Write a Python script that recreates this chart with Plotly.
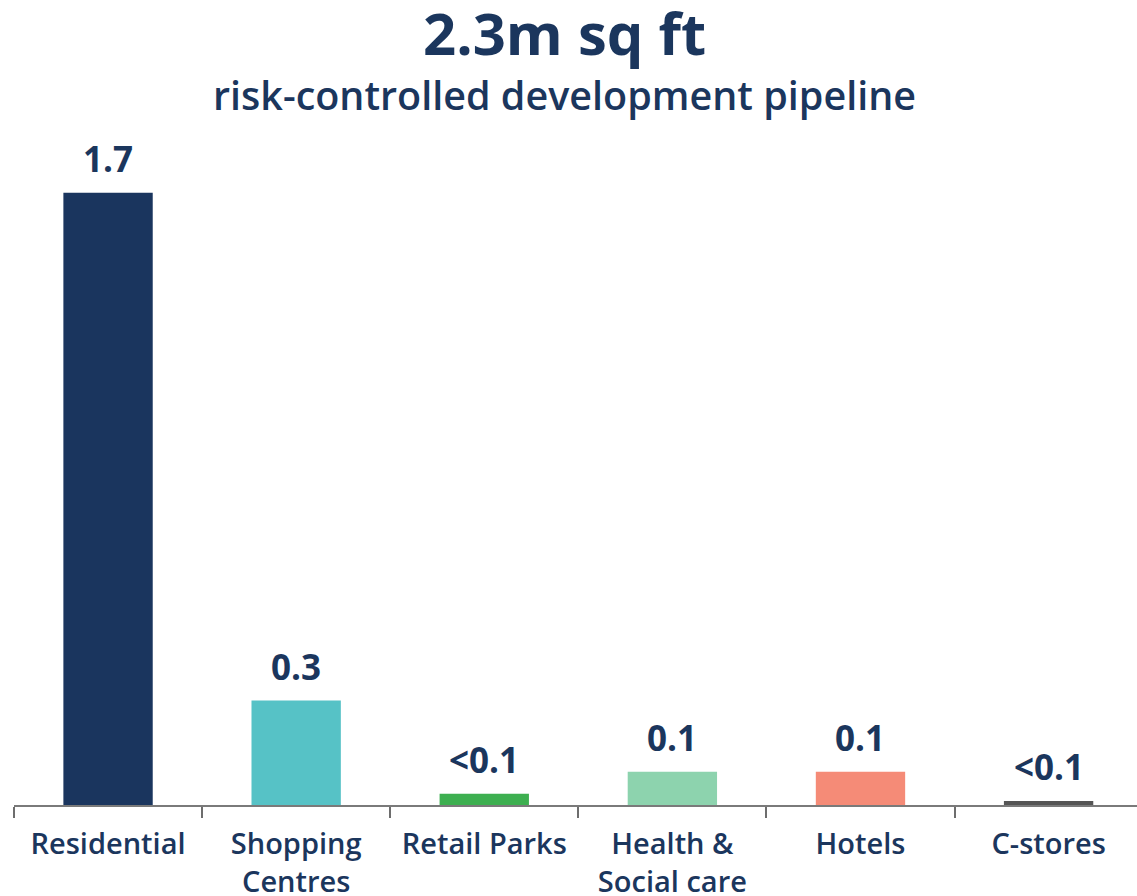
import plotly.graph_objects as go

categories = ["Residential", "Shopping<br>Centres", "Retail Parks", "Health &<br>Social care", "Hotels", "C-stores"]
values = [1.7, 0.29, 0.031, 0.092, 0.092, 0.011]
value_labels = ["1.7", "0.3", "<0.1", "0.1", "0.1", "<0.1"]
colors = ["#1a355e", "#56c2c6", "#3daf50", "#8dd3ae", "#f58b77", "#555555"]

NAVY = "#1b365d"
FONT = "Open Sans"

fig = go.Figure()
fig.add_trace(go.Bar(
    x=categories, y=values, marker_color=colors, width=0.475,
    marker_line_width=0, hoverinfo="skip",
))

for c, v, t in zip(categories, values, value_labels):
    fig.add_annotation(x=c, y=v, text=t, showarrow=False, yanchor="bottom",
                       yshift=9, font=dict(family=FONT, size=35, color=NAVY, weight=700))

fig.add_annotation(xref="paper", yref="paper", x=0.49, y=1.0, yshift=118,
                   text="2.3m sq ft", showarrow=False, yanchor="middle",
                   font=dict(family=FONT, size=58, color=NAVY, weight=700))
fig.add_annotation(xref="paper", yref="paper", x=0.49, y=1.0, yshift=55,
                   text="risk-controlled development pipeline", showarrow=False, yanchor="middle",
                   font=dict(family=FONT, size=39.5, color=NAVY, weight=600))

fig.update_layout(
    width=1137, height=896,
    margin=dict(l=14, r=0, t=150, b=91),
    plot_bgcolor="white", paper_bgcolor="white",
    showlegend=False, bargap=0.525,
    xaxis=dict(
        range=[-0.5, 5.47], automargin=False,
        showline=True, linecolor="#7a7a7a", linewidth=2,
        ticks="outside", tickson="boundaries", ticklen=11, tickwidth=2, tickcolor="#6d6d6d",
        tickfont=dict(family=FONT, size=29, color=NAVY, weight=600),
        ticklabelstandoff=12,
        showgrid=False, zeroline=False,
    ),
    yaxis=dict(visible=False, range=[0, 1.819], showgrid=False, zeroline=False, automargin=False),
)

fig.write_html("out.html")
